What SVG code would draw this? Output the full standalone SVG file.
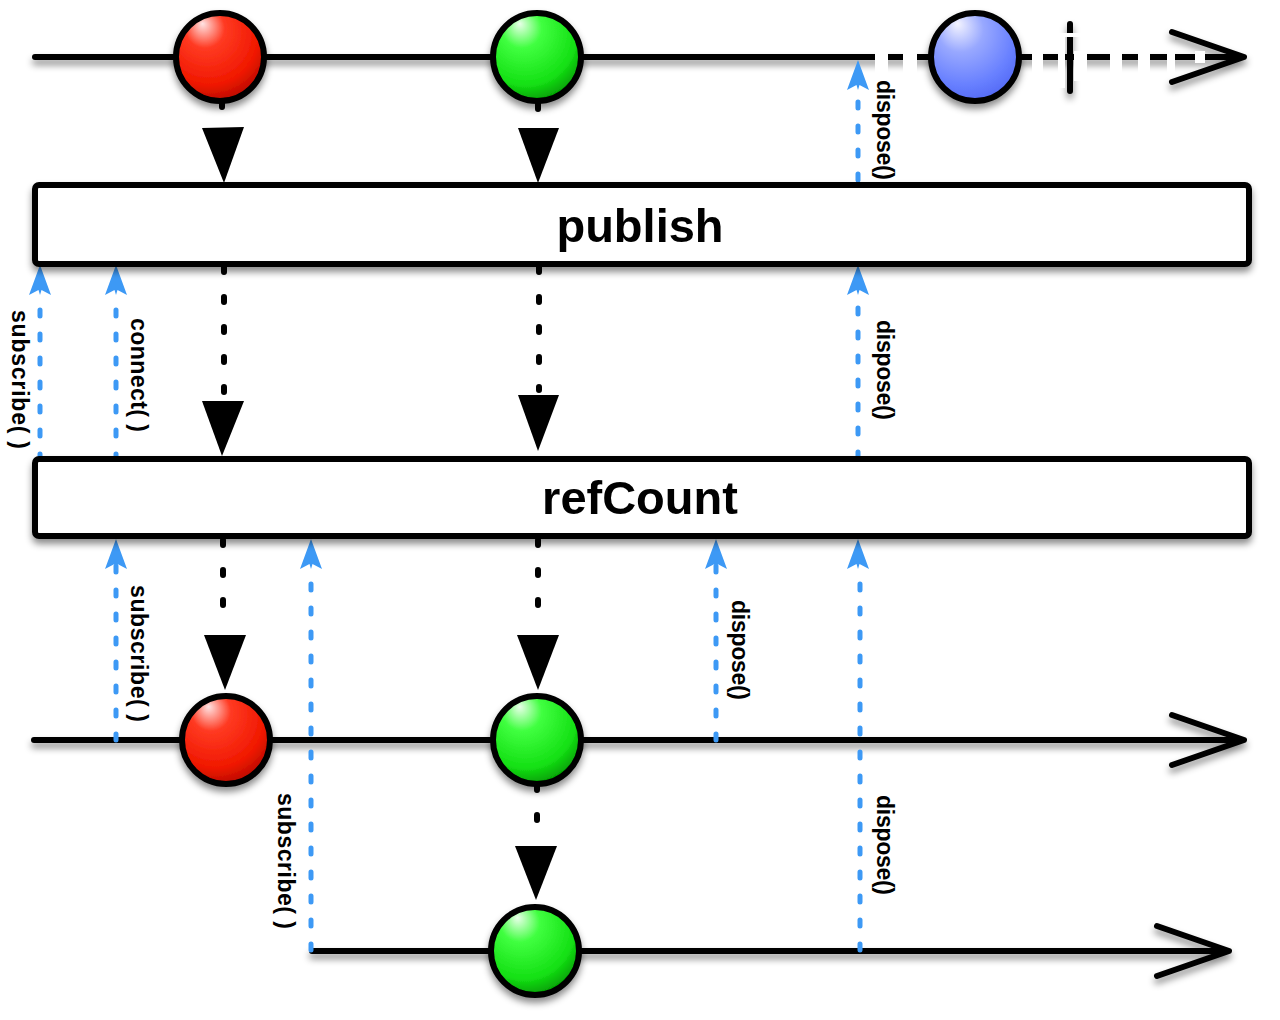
<svg xmlns="http://www.w3.org/2000/svg" width="1280" height="1020" viewBox="0 0 1280 1020">
<defs>
  <filter id="sh" x="-20%" y="-20%" width="140%" height="160%">
    <feDropShadow dx="0" dy="5" stdDeviation="3.5" flood-color="#000" flood-opacity="0.45"/>
  </filter>
  <radialGradient id="gRed" cx="0.4" cy="0.3" r="0.75" fx="0.3" fy="0.12">
    <stop offset="0" stop-color="#ffe4e4"/>
    <stop offset="0.3" stop-color="#ff3a22"/>
    <stop offset="0.75" stop-color="#f01800"/>
    <stop offset="1" stop-color="#b00800"/>
  </radialGradient>
  <radialGradient id="gGreen" cx="0.4" cy="0.3" r="0.75" fx="0.3" fy="0.12">
    <stop offset="0" stop-color="#eaffea"/>
    <stop offset="0.3" stop-color="#40ff40"/>
    <stop offset="0.75" stop-color="#14e014"/>
    <stop offset="1" stop-color="#009000"/>
  </radialGradient>
  <radialGradient id="gBlue" cx="0.4" cy="0.3" r="0.75" fx="0.3" fy="0.12">
    <stop offset="0" stop-color="#f4f4ff"/>
    <stop offset="0.35" stop-color="#98a8ff"/>
    <stop offset="0.75" stop-color="#6880ff"/>
    <stop offset="1" stop-color="#5066f4"/>
  </radialGradient>
  <polygon id="blueHead" points="0,0 11,30 1.5,25 0,30 -1.5,25 -11,30" fill="#3d99f5"/>
</defs>
<style>
  .tl { stroke:#000; stroke-width:6; fill:none; stroke-linecap:round; stroke-linejoin:round; }
  .box { fill:#fff; stroke:#000; stroke-width:6; }
  .ball { stroke:#000; stroke-width:6; }
  .bd { stroke:#000; stroke-width:6; stroke-dasharray:5 25; stroke-linecap:round; fill:none; }
  .tri { fill:#000; }
  .blue { stroke:#3d99f5; stroke-width:5; stroke-dasharray:6 18; stroke-linecap:round; fill:none; }
  .op { font-family:"Liberation Sans", Arial, sans-serif; font-weight:bold; font-size:47px; fill:#000; text-anchor:middle; }
  .lbl { font-family:"Liberation Sans", Arial, sans-serif; font-weight:bold; font-size:23px; fill:#000; }
</style>
<rect width="1280" height="1020" fill="#fff"/>

<g id="timelines" filter="url(#sh)">
  <line class="tl" x1="35" y1="57" x2="1240" y2="57"/>
  <polyline class="tl" points="1172,32 1244,57 1172,82"/>
  <line class="tl" x1="1070" y1="24" x2="1070" y2="91"/>
  <line class="tl" x1="34" y1="740" x2="1240" y2="740"/>
  <polyline class="tl" points="1172,715 1244,740 1172,765"/>
  <line class="tl" x1="312" y1="951" x2="1225" y2="951"/>
  <polyline class="tl" points="1157,926 1229,951 1157,976"/>
</g>
<g id="dispose-gaps" fill="#fff">
  <rect x="875" y="51" width="13" height="26"/>
  <rect x="903" y="51" width="14" height="26"/>
  <rect x="1032" y="51" width="11" height="28"/>
  <rect x="1058" y="33" width="7" height="55"/>
  <rect x="1062" y="33" width="25" height="4"/>
  <rect x="1074" y="51" width="13" height="30"/>
  <rect x="1110" y="51" width="12" height="26"/>
  <rect x="1138" y="51" width="12" height="26"/>
  <rect x="1167" y="51" width="8" height="22"/>
  <rect x="1195" y="51" width="10" height="12"/>
</g>

<g id="connectors">
  <line class="tl" x1="222" y1="100" x2="222" y2="107"/>
  <polygon class="tri" points="202,128 244,127 224,183"/>
  <line class="tl" x1="538" y1="100" x2="538" y2="109"/>
  <polygon class="tri" points="518,128 559,128 538,183"/>

  <line class="bd" x1="224" y1="267" x2="224" y2="395"/>
  <polygon class="tri" points="202,401 244,401 222,456"/>
  <line class="bd" x1="539" y1="267" x2="539" y2="390"/>
  <polygon class="tri" points="518,395 559,395 538,451"/>

  <line class="bd" x1="223" y1="540" x2="223" y2="630"/>
  <polygon class="tri" points="204,635 246,635 225,690"/>
  <line class="bd" x1="538" y1="540" x2="538" y2="630"/>
  <polygon class="tri" points="517,635 559,635 538,690"/>

  <line class="bd" x1="537" y1="785" x2="537" y2="840"/>
  <polygon class="tri" points="515,846 557,846 536,900"/>

  <line class="blue" x1="40" y1="460" x2="40" y2="292"/>
  <use href="#blueHead" x="40" y="265"/>
  <line class="blue" x1="116" y1="460" x2="116" y2="292"/>
  <use href="#blueHead" x="116" y="265"/>
  <line class="blue" x1="858" y1="458" x2="858" y2="292"/>
  <use href="#blueHead" x="858" y="265"/>
  <line class="blue" x1="858" y1="180" x2="858" y2="88"/>
  <use href="#blueHead" x="858" y="60"/>

  <line class="blue" x1="116" y1="740" x2="116" y2="566"/>
  <use href="#blueHead" x="116" y="539"/>
  <line class="blue" x1="311" y1="950" x2="311" y2="566"/>
  <use href="#blueHead" x="311" y="539"/>
  <line class="blue" x1="716" y1="740" x2="716" y2="566"/>
  <use href="#blueHead" x="716" y="539"/>
  <line class="blue" x1="860" y1="950" x2="860" y2="566"/>
  <use href="#blueHead" x="858" y="539"/>

  <text class="lbl" transform="translate(12,310) rotate(90)" textLength="139" lengthAdjust="spacing">subscribe( )</text>
  <text class="lbl" transform="translate(131,318) rotate(90)" textLength="114" lengthAdjust="spacing">connect( )</text>
  <text class="lbl" transform="translate(877,80) rotate(90)" textLength="100" lengthAdjust="spacing">dispose()</text>
  <text class="lbl" transform="translate(877,320) rotate(90)" textLength="100" lengthAdjust="spacing">dispose()</text>
  <text class="lbl" transform="translate(131,585) rotate(90)" textLength="137" lengthAdjust="spacing">subscribe( )</text>
  <text class="lbl" transform="translate(732,600) rotate(90)" textLength="100" lengthAdjust="spacing">dispose()</text>
  <text class="lbl" transform="translate(278,793) rotate(90)" textLength="136" lengthAdjust="spacing">subscribe( )</text>
  <text class="lbl" transform="translate(877,795) rotate(90)" textLength="100" lengthAdjust="spacing">dispose()</text>
</g>

<g id="publish" filter="url(#sh)">
  <rect class="box" x="35" y="185" width="1214" height="79" rx="4"/>
  <text class="op" x="640" y="242">publish</text>
</g>
<g id="refCount" filter="url(#sh)">
  <rect class="box" x="35" y="459" width="1214" height="77" rx="4"/>
  <text class="op" x="640" y="514">refCount</text>
</g>

<g id="red-1" filter="url(#sh)"><circle class="ball" cx="220" cy="57" r="44" fill="url(#gRed)"/></g>
<g id="green-1" filter="url(#sh)"><circle class="ball" cx="537" cy="57" r="44" fill="url(#gGreen)"/></g>
<g id="blue-1" filter="url(#sh)"><circle class="ball" cx="975" cy="57" r="44" fill="url(#gBlue)"/></g>
<g id="red-2" filter="url(#sh)"><circle class="ball" cx="226" cy="740" r="44" fill="url(#gRed)"/></g>
<g id="green-2" filter="url(#sh)"><circle class="ball" cx="537" cy="740" r="44" fill="url(#gGreen)"/></g>
<g id="green-3" filter="url(#sh)"><circle class="ball" cx="535" cy="951" r="44" fill="url(#gGreen)"/></g>
</svg>
